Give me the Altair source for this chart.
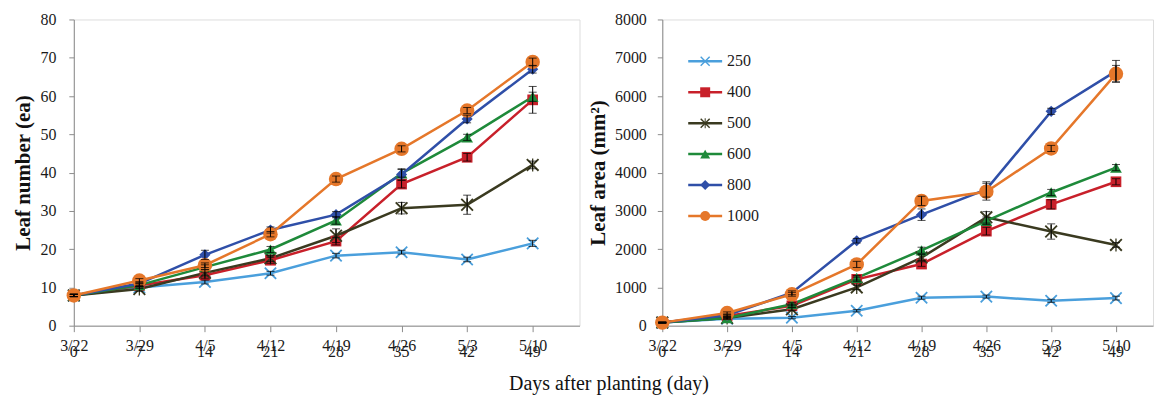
import altair as alt
import pandas as pd

FONT = "Liberation Serif"

days = [0, 7, 14, 21, 28, 35, 42, 49]
dates = ["3/22", "3/29", "4/5", "4/12", "4/19", "4/26", "5/3", "5/10"]
series = ["250", "400", "500", "600", "800", "1000"]
colors = ["#4a9fdc", "#c8202a", "#3a3a20", "#1e8a3a", "#2f4fa8", "#e5772a"]

X_PATH = "M-1,-0.8L-0.8,-1L1,0.8L0.8,1Z M-1,0.8L-0.8,1L1,-0.8L0.8,-1Z"
STAR_PATH = X_PATH + " M-0.1,-1L0.1,-1L0.1,1L-0.1,1Z"
shapes = [X_PATH, "square", STAR_PATH, "triangle-up", "diamond", "circle"]
sizes = [160, 115, 170, 140, 125, 210]

# Leaf number (ea)
leaf_number = {
    "250": [7.9, 10.0, 11.4, 13.7, 18.3, 19.2, 17.3, 21.5],
    "400": [7.9, 10.5, 13.2, 17.1, 22.1, 37.0, 44.0, 59.0],
    "500": [7.9, 9.6, 13.8, 17.6, 23.5, 30.7, 31.6, 42.0],
    "600": [7.9, 10.6, 15.3, 19.9, 27.5, 39.8, 49.2, 59.8],
    "800": [7.9, 11.0, 18.5, 25.0, 29.0, 39.5, 54.0, 67.0],
    "1000": [7.9, 11.8, 15.8, 23.9, 38.3, 46.2, 56.2, 68.9],
}
leaf_number_err = {
    "250": [0.3, 0.3, 0.5, 0.5, 0.6, 0.5, 0.6, 0.8],
    "400": [0.3, 0.4, 0.8, 0.8, 1.0, 1.0, 1.0, 3.5],
    "500": [0.3, 0.6, 0.8, 0.8, 1.8, 1.5, 2.5, 1.0],
    "600": [0.3, 0.4, 0.6, 0.8, 1.0, 1.0, 0.8, 1.2],
    "800": [0.3, 0.5, 1.2, 0.8, 0.8, 1.5, 1.0, 1.0],
    "1000": [0.3, 0.5, 0.6, 0.7, 0.8, 0.8, 0.8, 1.0],
}
# Leaf area (mm2)
leaf_area = {
    "250": [80, 180, 210, 390, 730, 760, 650, 720],
    "400": [80, 250, 520, 1210, 1610, 2470, 3170, 3760],
    "500": [80, 200, 430, 1000, 1780, 2830, 2460, 2110],
    "600": [80, 200, 560, 1250, 1970, 2740, 3480, 4130],
    "800": [80, 270, 860, 2220, 2900, 3560, 5600, 6650],
    "1000": [80, 330, 820, 1600, 3260, 3500, 4630, 6580],
}
leaf_area_err = {
    "250": [10, 20, 30, 30, 40, 40, 40, 50],
    "400": [10, 20, 40, 60, 60, 100, 120, 80],
    "500": [10, 20, 40, 60, 80, 150, 200, 60],
    "600": [10, 20, 40, 60, 80, 100, 80, 80],
    "800": [10, 30, 50, 60, 150, 200, 80, 280],
    "1000": [10, 30, 50, 80, 120, 220, 80, 220],
}

line_keys = [s + " " for s in series]  # separate domain for the line legend


def long_df(vals, errs):
    rows = []
    for i, s in enumerate(series):
        for d, v, e in zip(days, vals[s], errs[s]):
            rows.append({"series": s, "line_series": line_keys[i], "day": d,
                         "value": v, "lo": v - e, "hi": v + e, "msize": sizes[i]})
    return pd.DataFrame(rows)


day_df = pd.DataFrame({"day": days, "lbl": [str(d) for d in days]})
label_expr = "[" + ",".join("'%s'" % t for t in dates) + "][round(datum.value/7)]"

H = 307


def panel(df, ytitle, ymax, ystep, width, xmax, show_legend, lab_pad):
    xenc = alt.X("day:Q", scale=alt.Scale(domain=[0, xmax], nice=False, zero=False),
                 axis=alt.Axis(values=days, labelExpr=label_expr, title=None,
                               tickSize=6, labelPadding=6, labelFontSize=16,
                               labelFont=FONT, labelColor="#1a1a1a",
                               domainColor="#8c8c8c", tickColor="#8c8c8c",
                               grid=False, labelFlush=False))
    yaxis = alt.Axis(values=list(range(0, ymax + 1, ystep)), format="d", title=ytitle,
                     titleFont=FONT, titleFontSize=21, titleFontWeight="bold",
                     titleColor="#111", titlePadding=6, tickSize=5,
                     labelPadding=lab_pad, labelFontSize=16, labelFont=FONT,
                     labelColor="#1a1a1a", domainColor="#8c8c8c",
                     tickColor="#8c8c8c", grid=False)
    yscale = alt.Scale(domain=[0, ymax], nice=False)

    def yenc(f):
        return alt.Y(f + ":Q", scale=yscale, axis=yaxis)

    base = alt.Chart(df)
    if show_legend:
        stroke_legend = alt.Legend(orient="none", legendX=35, legendY=34, title=None,
                                   symbolType="M-3.4,0L3.4,0", symbolSize=100,
                                   symbolStrokeWidth=2.5, labelOpacity=0,
                                   rowPadding=15, padding=0, labelOffset=14,
                                   labelFontSize=16, labelFont=FONT)
        shape_legend = alt.Legend(orient="none", legendX=35, legendY=34, title=None,
                                  symbolSize=100, rowPadding=15, padding=0,
                                  labelOffset=14, labelFontSize=16, labelFont=FONT,
                                  labelColor="#1a1a1a", symbolOpacity=1)
    else:
        stroke_legend = None
        shape_legend = None

    lines = base.mark_line(strokeWidth=2.5).encode(
        x=xenc, y=yenc("value"),
        stroke=alt.Stroke("line_series:N", scale=alt.Scale(domain=line_keys, range=colors),
                          sort=line_keys, legend=stroke_legend),
        detail="series:N",
    )
    points = base.mark_point(filled=True, opacity=1).encode(
        x=xenc, y=yenc("value"),
        color=alt.Color("series:N", scale=alt.Scale(domain=series, range=colors),
                        sort=series, legend=shape_legend),
        shape=alt.Shape("series:N", scale=alt.Scale(domain=series, range=shapes),
                        sort=series, legend=shape_legend),
        size=alt.Size("msize:Q", scale=None, legend=None),
    )
    rules = base.mark_rule(color="black", strokeWidth=1).encode(
        x=xenc, y=yenc("lo"), y2="hi:Q")
    cap_lo = base.mark_tick(color="black", thickness=1, size=8, orient="horizontal").encode(
        x=xenc, y=yenc("lo"))
    cap_hi = base.mark_tick(color="black", thickness=1, size=8, orient="horizontal").encode(
        x=xenc, y=yenc("hi"))
    day_text = alt.Chart(day_df).mark_text(baseline="top", font=FONT, fontSize=16,
                                           color="#1a1a1a").encode(
        x=alt.X("day:Q", scale=alt.Scale(domain=[0, xmax], nice=False, zero=False)),
        y=alt.value(H + 18), text="lbl:N")
    return alt.layer(lines, points, rules, cap_lo, cap_hi, day_text).properties(
        width=width, height=H)


left = panel(long_df(leaf_number, leaf_number_err), "Leaf number (ea)", 80, 10,
             507, 54, False, 13)
right = panel(long_df(leaf_area, leaf_area_err), "Leaf area (mm²)", 8000, 1000,
              492, 53, True, 11)

chart = alt.hconcat(left, right, spacing=6).resolve_scale(
    color="independent", shape="independent", stroke="independent", size="independent"
).properties(
    padding={"left": 12, "top": 10, "right": 5, "bottom": 5},
    title=alt.TitleParams("Days after planting (day)", orient="bottom", anchor="middle",
                          fontSize=20, font=FONT, fontWeight="normal", offset=14,
                          dx=26, color="#111"),
).configure_view(stroke=None).configure(background="white")

chart.save("out.html", embed_options={"renderer": "svg", "actions": False})
